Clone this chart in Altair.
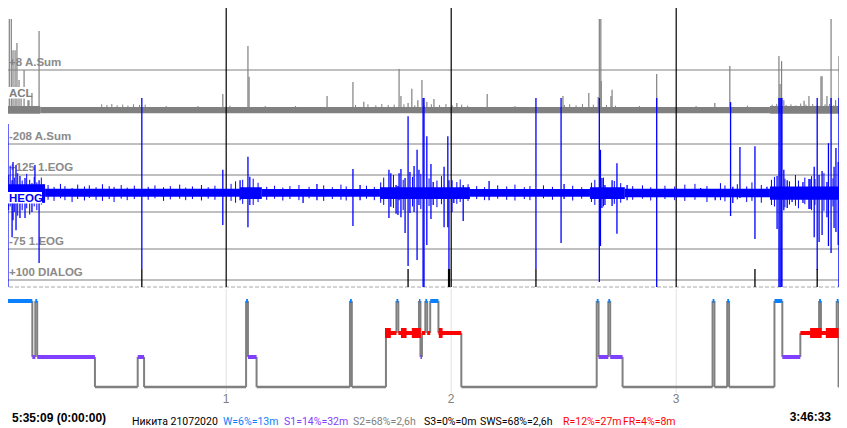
import altair as alt
import pandas as pd

# ---------------- time base: minutes since 5:35:09, record length 3:46:33 ----------------
T_END = 226.55
HOURS = [60, 120, 180]
HOUR_LABELS = ["1", "2", "3"]
TEN_MIN = [10, 20, 30, 40, 50, 70, 80, 90, 100, 110, 130, 140, 150, 160, 170, 190, 200, 210, 220]

# ---------------- ACL channel (A.Sum units) ----------------
acl_t = [0.2, 0.75, 1.3, 1.55, 2.16, 2.69, 3.15, 3.7, 4.2, 4.75,
         5.3, 6.1, 7.15, 7.4, 8.2, 10.1, 59.1, 65.8, 66.1, 86.9,
         93.8, 96.7, 106.1, 106.6, 108.5, 109.5, 111.1, 112.2, 113.5, 115.4,
         121.5, 129.6, 149.8, 156.7, 159.2, 159.5, 159.9, 160.0, 162.6, 162.9,
         174.8, 190.3, 194.3, 207.4, 207.7, 208.1, 208.7, 214.1, 215.4, 218.6,
         218.9, 220.2, 221.3, 222.5, 223.4]
acl_top = [125, 23, 37, 52, 157, 157, 66, 66, 87, -21,
           -50, 8, -80, -80, -59, 122, -62, 78, -12, -68,
           -27, -85, 11, -68, -88, -47, -80, -21, -85, -77,
           -88, -62, -68, -59, -71, 157, 157, -24, -68, -50,
           -4, -88, 20, 49, -33, 34, -80, -82, -68, -10,
           -10, -68, 157, -80, 49]
acl_fuzz_t = [26.8, 28.2, 29.5, 30.9, 32.4, 33.8, 35.3, 36.9, 38.4, 44.0,
              52.5, 61.0, 70.4, 78.5, 94.5, 97.8, 99.9, 101.5, 103.2, 104.8,
              107.4, 110.3, 112.8, 114.7, 116.9, 118.6, 120.3, 122.8, 124.4, 137.0,
              150.2, 151.6, 153.3, 155.0, 157.9, 161.4, 163.8, 170.2, 185.3, 199.0,
              205.6, 206.8, 209.3, 210.6, 211.9, 213.2, 214.6, 216.4, 217.6, 219.7,
              220.9, 222.0, 223.9, 224.7, 225.8]
acl_fuzz_top = [-92, -94, -91, -95, -93, -96, -92, -94, -93, -97,
                -97, -96, -97, -97, -94, -92, -95, -91, -94, -93,
                -92, -95, -96, -92, -94, -91, -95, -93, -96, -97,
                -94, -92, -95, -91, -93, -94, -96, -97, -97, -96,
                -93, -91, -94, -92, -95, -90, -93, -91, -94, -92,
                -91, -95, -92, -93, -91]
ACL_BASE = -105
acl_band_t0 = [0, 10.4, 205.0]
acl_band_t1 = [10.4, 205.0, T_END]
acl_band_hi = [-97, -100, -97]
acl_band_lo = [-120, -118, -120]
acl_grid = [8, -208]
acl_grid_lbl = ["+8 A.Sum", "-208 A.Sum"]

# ---------------- HEOG channel (1.EOG units) ----------------
eog_t = [0.0, 0.21, 0.48, 0.75, 1.8, 2.9, 3.15, 3.95, 5.0, 6.35,
         8.2, 9.0, 10.1, 37.5, 59.1, 63.7, 65.8, 66.3, 80.5, 84.2,
         93.8, 95.7, 103.4, 103.9, 105.3, 105.8, 106.1, 106.6, 107.7, 108.5,
         109.0, 110.1, 110.9, 111.4, 112.5, 112.75, 113.5, 114.6, 115.2, 118.1,
         119.1, 119.4, 120.2, 120.7, 123.2, 130.1, 142.6, 149.3, 150.1, 159.5,
         159.8, 160.2, 161.0, 162.9, 164.2, 166.9, 174.8, 186.5, 190.4, 194.5,
         195.1, 197.0, 201.0, 204.2, 206.9, 207.4, 207.7, 208.0, 208.2, 208.7,
         209.6, 210.9, 213.8, 215.4, 215.7, 216.8, 217.6, 218.1, 218.9, 220.2,
         220.6, 221.3, 222.1, 222.6, 223.2, 223.4, 224.5, 225.3]
eog_hi = [333, 333, 333, 333, 263, 111, 160, 152, 122, 117,
          103, 152, 111, 333, 139, 111, 174, 120, 84, 101,
          141, 98, 139, 130, 98, 95, 130, 141, 117, 284,
          133, 149, 193, 139, 333, 333, 230, 155, 106, 147,
          230, 111, 111, 84, 98, 109, 333, 333, 101, 333,
          193, 117, 98, 111, 157, 98, 333, 90, 84, 322,
          93, 201, 203, 93, 122, 333, 333, 333, 333, 139,
          111, 84, 106, 114, 114, 147, 333, 125, 136, 106,
          211, 333, 147, 198, 160, 333, 130, 201]
eog_lo = [-178, -178, -178, -178, -178, -43, 3, -24, 9, 9,
          25, 57, -113, -129, -10, 57, -16, 44, 49, 57,
          -13, 57, 9, 39, 20, 17, 57, 11, -32, -121,
          22, 25, -105, 44, -178, -178, -64, 6, 44, -16,
          -16, -132, 25, 49, 1, 57, -129, -59, 60, -164,
          -67, 36, 44, 41, -34, 57, -178, 68, 57, 14,
          49, 63, -48, 68, -21, -178, -178, -178, -178, 30,
          36, 52, 49, 33, 33, -43, -132, -56, -37, 11,
          -67, -86, -18, -29, -64, -178, 3, 84]
eog_left_t = [1.2, 2.0, 2.4, 3.5, 4.4, 5.6, 6.8, 7.6, 8.8, 9.5, 10.7, 11.3]
eog_left_hi = [140, 125, 150, 118, 130, 110, 128, 112, 120, 105, 118, 100]
eog_left_lo = [20, 30, 40, 25, 15, 30, 35, 18, 40, 30, 45, 50]
eog_fine_t = [12.5, 14.1, 15.8, 17.0, 18.9, 20.4, 22.2, 23.5, 25.3, 27.0,
              28.8, 30.1, 32.0, 33.6, 35.5, 39.2, 41.0, 43.3, 45.1, 47.6,
              49.2, 51.0, 53.4, 55.2, 57.0, 61.3, 62.5, 64.4, 67.2, 68.5,
              70.8, 72.9, 75.1, 77.0, 79.4, 82.1, 86.0, 88.3, 90.6, 92.0,
              97.4, 99.5, 101.2, 102.0, 104.6, 107.2, 109.7, 111.9, 114.1, 116.2,
              117.4, 121.5, 122.4, 124.5, 126.8, 128.9, 132.4, 134.8, 137.0, 139.5,
              141.0, 144.6, 147.0, 152.4, 154.8, 157.4, 158.3, 160.6, 163.5, 165.2,
              168.4, 171.0, 173.2, 177.0, 179.6, 182.3, 185.0, 188.2, 191.8, 193.0,
              196.3, 198.8, 200.2, 202.7, 205.4, 206.2, 209.0, 210.2, 211.8, 212.6,
              214.3, 216.1, 217.0, 219.4, 221.8, 224.0, 225.9]
eog_fine_hi = [98, 93, 101, 95, 90, 99, 94, 97, 92, 100,
               95, 93, 98, 91, 96, 93, 97, 92, 95, 99,
               91, 94, 98, 92, 96, 101, 108, 112, 115, 104,
               93, 96, 91, 95, 98, 93, 97, 92, 99, 94,
               96, 93, 105, 118, 125, 112, 120, 128, 116, 110,
               122, 106, 113, 100, 95, 92, 97, 94, 99, 92,
               95, 97, 93, 96, 92, 104, 112, 118, 109, 103,
               95, 97, 92, 96, 94, 99, 101, 95, 103, 97,
               100, 94, 105, 98, 112, 120, 115, 108, 125, 110,
               118, 122, 114, 130, 116, 120, 112]
eog_fine_lo = [58, 55, 62, 57, 52, 60, 56, 63, 58, 55,
               60, 52, 61, 57, 60, 58, 62, 55, 59, 61,
               57, 60, 56, 61, 58, 55, 50, 47, 44, 52,
               58, 61, 56, 60, 57, 62, 55, 60, 58, 56,
               61, 57, 50, 44, 36, 30, 40, 33, 41, 38,
               46, 47, 52, 55, 60, 57, 61, 58, 56, 60,
               57, 62, 58, 56, 61, 52, 44, 40, 47, 50,
               58, 61, 56, 60, 57, 55, 58, 52, 57, 54,
               59, 52, 55, 50, 44, 40, 38, 45, 42, 35,
               46, 30, 44, 28, 40, 35, 46]
eog_band_t0 = [1.0, 11.7, 63.7, 69.5, 101.0, 125.0, 157.0, 166.3, 205.0]
eog_band_t1 = [11.7, 63.7, 69.5, 101.0, 125.0, 157.0, 166.3, 205.0, T_END]
eog_band_hi = [100, 88, 92, 87, 92, 87, 92, 88, 94]
eog_band_lo = [50, 66, 60, 66, 60, 66, 60, 65, 58]
eog_grid = [125, 25, -75]
eog_grid_lbl = ["+125 1.EOG", "", "-75 1.EOG"]

# ---------------- DIALOG channel ----------------
dlg_t = [37.5, 108.5, 119.3, 119.55, 142.6, 201.0, 217.6]
dlg_val = [257, 257, 257, 257, 257, 257, 257]
dlg_grid = [100]
dlg_grid_lbl = ["+100 DIALOG"]

# ---------------- hypnogram ----------------
hyp_start = [0, 8.3, 9.1, 9.6, 25.0, 36.4, 38.1, 65.3, 65.8, 68.1,
             93.0, 93.5, 102.6, 105.4, 105.9, 111.4, 111.8, 112.2, 113.1, 113.6,
             114.4, 116.6, 122.7, 158.8, 159.3, 161.9, 162.4, 165.7, 189.7, 190.2,
             193.6, 194.1, 206.2, 208.3, 213.1, 218.1, 218.6, 222.8, 223.3]
hyp_stage = ["W", "S1", "W", "S1", "S2", "S1", "S2", "W", "S1", "S2",
             "W", "S2", "R", "W", "R", "W", "S1", "R", "W", "R",
             "W", "R", "S2", "W", "S1", "W", "S1", "S2", "W", "S2",
             "W", "S2", "W", "S1", "R", "W", "R", "W", "S2"]
rem_t0 = [102.35, 106.6, 109.5, 116.7, 215.7, 219.9]
rem_t1 = [103.9, 108.1, 111.9, 117.7, 218.8, 223.3]
STAGE_LEVEL = {"W": 0, "R": 1, "S1": 2, "S2": 3}
STAGE_COLOR = {"W": "#0a80ff", "R": "#ff0000", "S1": "#8040ff"}

summary = [("Никита 21072020 ", "#000000"), ("W=6%=13m", "#0a80ff"), ("S1=14%=32m", "#8040ff"),
           ("S2=68%=2,6h", "#808080"), ("S3=0%=0m", "#000000"), ("SWS=68%=2,6h", "#000000"),
           ("R=12%=27m", "#ff0000"), ("FR=4%=8m", "#ff0000")]
summary_x = [132, 223, 284, 353, 424, 480, 563, 623]

# ---------------- scales ----------------
X = alt.Scale(domain=[0, T_END], range=[1.2, 1.2 + 3.75 * T_END], nice=False, zero=False)
Y_ACL = alt.Scale(domain=[8, -208], range=[70, 144], nice=False, zero=False)
Y_EOG = alt.Scale(domain=[125, -75], range=[175, 249], nice=False, zero=False)
Y_DLG = alt.Scale(domain=[100, 0], range=[280, 287], nice=False, zero=False)
Y_HYP = alt.Scale(domain=[0, 1, 2, 3], range=[301, 333, 357, 387], nice=False, zero=False)

FONT = "Liberation Sans"
GRAY = "#808080"
LBL = "#8a8a8a"
BLUE = "#0000ff"


def xq(f):
    return alt.X(f, type="quantitative", scale=X, axis=None)


def yq(f, s):
    return alt.Y(f, type="quantitative", scale=s, axis=None)


layers = []

# frame: top border and 10-minute ticks
layers.append(alt.Chart(pd.DataFrame({"a": [0]})).mark_rule(color="#c4c4e0", strokeWidth=2).encode(
    x=alt.value(0), x2=alt.value(847), y=alt.value(1)))
layers.append(alt.Chart(pd.DataFrame({"t": TEN_MIN})).mark_rule(color="black").encode(
    x=xq("t"), y=alt.value(2), y2=alt.value(6)))

# channel grid lines
layers.append(alt.Chart(pd.DataFrame({"v": acl_grid})).mark_rule(color=GRAY).encode(y=yq("v", Y_ACL)))
layers.append(alt.Chart(pd.DataFrame({"v": eog_grid})).mark_rule(color=GRAY).encode(y=yq("v", Y_EOG)))
layers.append(alt.Chart(pd.DataFrame({"v": dlg_grid})).mark_rule(color=GRAY).encode(y=yq("v", Y_DLG)))
layers.append(alt.Chart(pd.DataFrame({"v": [0]})).mark_rule(color="#a8a8a8", strokeDash=[4, 2]).encode(
    y=yq("v", Y_DLG)))

# channel scale labels (under the traces)
lbl_kw = dict(align="left", baseline="alphabetic", dy=-4, font=FONT, fontSize=11.5, fontWeight="bold", color=LBL)
layers.append(alt.Chart(pd.DataFrame({"v": acl_grid, "s": acl_grid_lbl})).mark_text(**lbl_kw).encode(
    x=alt.value(9), y=yq("v", Y_ACL), text="s:N"))
layers.append(alt.Chart(pd.DataFrame({"v": eog_grid, "s": eog_grid_lbl})).mark_text(**lbl_kw).encode(
    x=alt.value(9), y=yq("v", Y_EOG), text="s:N"))
layers.append(alt.Chart(pd.DataFrame({"v": dlg_grid, "s": dlg_grid_lbl})).mark_text(**lbl_kw).encode(
    x=alt.value(9), y=yq("v", Y_DLG), text="s:N"))

# ACL trace
acl_band = pd.DataFrame({"t0": acl_band_t0, "t1": acl_band_t1, "hi": acl_band_hi, "lo": acl_band_lo})
layers.append(alt.Chart(acl_band).mark_rect(color=GRAY).encode(
    x=xq("t0"), x2="t1", y=yq("hi", Y_ACL), y2="lo"))
acl_fz = pd.DataFrame({"t": acl_fuzz_t, "hi": acl_fuzz_top, "lo": [ACL_BASE] * len(acl_fuzz_t)})
layers.append(alt.Chart(acl_fz).mark_rule(color=GRAY, strokeWidth=1).encode(
    x=xq("t"), y=yq("hi", Y_ACL), y2="lo"))
acl_sp = pd.DataFrame({"t": acl_t, "hi": acl_top, "lo": [ACL_BASE] * len(acl_t)})
layers.append(alt.Chart(acl_sp).mark_rule(color=GRAY, strokeWidth=1.2).encode(
    x=xq("t"), y=yq("hi", Y_ACL), y2="lo"))

# hour lines over the traces area
layers.append(alt.Chart(pd.DataFrame({"t": HOURS})).mark_rule(color="black", strokeWidth=1.2).encode(
    x=xq("t"), y=alt.value(0), y2=alt.value(287)))

# HEOG trace
eog_band = pd.DataFrame({"t0": eog_band_t0, "t1": eog_band_t1, "hi": eog_band_hi, "lo": eog_band_lo})
layers.append(alt.Chart(eog_band).mark_rect(color=BLUE).encode(
    x=xq("t0"), x2="t1", y=yq("hi", Y_EOG), y2="lo"))
eog_fine = pd.DataFrame({"t": eog_left_t + eog_fine_t, "hi": eog_left_hi + eog_fine_hi,
                         "lo": eog_left_lo + eog_fine_lo})
layers.append(alt.Chart(eog_fine).mark_rule(color=BLUE, strokeWidth=1).encode(
    x=xq("t"), y=yq("hi", Y_EOG), y2="lo"))
eog_sp = pd.DataFrame({"t": eog_t, "hi": eog_hi, "lo": eog_lo})
layers.append(alt.Chart(eog_sp).mark_rule(color=BLUE, strokeWidth=1.3).encode(
    x=xq("t"), y=yq("hi", Y_EOG), y2="lo"))

# DIALOG marks
dlg = pd.DataFrame({"t": dlg_t, "v": dlg_val, "z": [0] * len(dlg_t)})
layers.append(alt.Chart(dlg).mark_rule(color="black", strokeWidth=1.3).encode(
    x=xq("t"), y=yq("v", Y_DLG), y2="z"))

# channel name boxes
layers.append(alt.Chart(pd.DataFrame({"a": [0]})).mark_rect(color="white").encode(
    x=alt.value(5), x2=alt.value(31), y=alt.value(87), y2=alt.value(98.5)))
layers.append(alt.Chart(pd.DataFrame({"s": ["ACL"]})).mark_text(
    align="left", baseline="alphabetic", font=FONT, fontSize=11.5, fontWeight="bold", color=GRAY).encode(
    x=alt.value(9), y=alt.value(96.7), text="s:N"))
layers.append(alt.Chart(pd.DataFrame({"a": [0]})).mark_rect(color="white").encode(
    x=alt.value(5), x2=alt.value(42), y=alt.value(192), y2=alt.value(203.5)))
layers.append(alt.Chart(pd.DataFrame({"s": ["HEOG"]})).mark_text(
    align="left", baseline="alphabetic", font=FONT, fontSize=11.5, fontWeight="bold", color=BLUE).encode(
    x=alt.value(9), y=alt.value(201.7), text="s:N"))

# hypnogram
layers.append(alt.Chart(pd.DataFrame({"t": HOURS})).mark_rule(color="#e2e2e2").encode(
    x=xq("t"), y=alt.value(289), y2=alt.value(393)))
hyp_end = hyp_start[1:] + [T_END]
hyp = pd.DataFrame({"t0": hyp_start, "t1": hyp_end, "stage": hyp_stage,
                    "lvl": [STAGE_LEVEL[s] for s in hyp_stage]})
conn = pd.DataFrame({"t": hyp_start[1:],
                     "a": [STAGE_LEVEL[s] for s in hyp_stage[:-1]],
                     "b": [STAGE_LEVEL[s] for s in hyp_stage[1:]]})
layers.append(alt.Chart(conn).mark_rule(color=GRAY, strokeWidth=2).encode(
    x=xq("t"), y=yq("a", Y_HYP), y2="b"))
layers.append(alt.Chart(hyp[hyp.stage == "S2"]).mark_rule(color=GRAY, strokeWidth=2.5).encode(
    x=xq("t0"), x2="t1", y=yq("lvl", Y_HYP)))
layers.append(alt.Chart(hyp[hyp.stage != "S2"]).mark_rule(strokeWidth=4).encode(
    x=xq("t0"), x2="t1", y=yq("lvl", Y_HYP),
    color=alt.Color("stage:N", scale=alt.Scale(domain=list(STAGE_COLOR), range=list(STAGE_COLOR.values())),
                    legend=None)))
rem = pd.DataFrame({"t0": rem_t0, "t1": rem_t1, "lvl": [STAGE_LEVEL["R"]] * len(rem_t0)})
layers.append(alt.Chart(rem).mark_rule(color="#ff0000", strokeWidth=10).encode(
    x=xq("t0"), x2="t1", y=yq("lvl", Y_HYP)))
layers.append(alt.Chart(pd.DataFrame({"t": HOURS, "s": HOUR_LABELS})).mark_text(
    align="center", baseline="alphabetic", font=FONT, fontSize=12, color=GRAY).encode(
    x=xq("t"), y=alt.value(402.5), text="s:N"))

# bottom texts
layers.append(alt.Chart(pd.DataFrame({"s": ["5:35:09 (0:00:00)"]})).mark_text(
    align="left", baseline="alphabetic", font=FONT, fontSize=12, fontWeight="bold", color="black").encode(
    x=alt.value(12), y=alt.value(421.8), text="s:N"))
layers.append(alt.Chart(pd.DataFrame({"s": ["3:46:33"]})).mark_text(
    align="right", baseline="alphabetic", font=FONT, fontSize=12, fontWeight="bold", color="black").encode(
    x=alt.value(831), y=alt.value(420.8), text="s:N"))
for (txt, col), xp in zip(summary, summary_x):
    layers.append(alt.Chart(pd.DataFrame({"s": [txt]})).mark_text(
        align="left", baseline="alphabetic", font="Roboto", fontSize=10.5, color=col).encode(
        x=alt.value(xp), y=alt.value(425), text="s:N"))

chart = alt.layer(*layers).resolve_scale(y="independent").properties(
    width=847, height=428,
    padding={"left": -8, "top": -8, "right": -8, "bottom": 0},
    autosize=alt.AutoSizeParams(type="none"),
    background="white",
).configure_view(stroke=None)

chart.save("out.html", embed_options={"renderer": "svg", "actions": False})
